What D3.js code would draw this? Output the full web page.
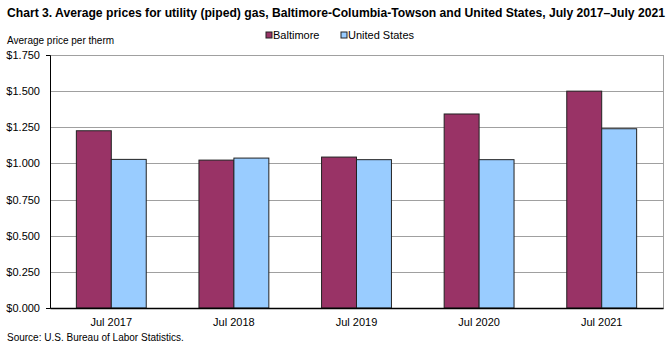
<!DOCTYPE html>
<html>
<head>
<meta charset="utf-8">
<script src="https://cdn.jsdelivr.net/npm/d3@7"></script>
<style>
  body { margin: 0; background: #fff; }
  text { font-family: "Liberation Sans", Arial, sans-serif; fill: #000; }
</style>
</head>
<body>
<div id="chart"></div>
<script>
var categories = ["Jul 2017", "Jul 2018", "Jul 2019", "Jul 2020", "Jul 2021"];
var seriesNames = ["Baltimore", "United States"];
var baltimore = [1.226, 1.023, 1.044, 1.342, 1.500];
var unitedStates = [1.028, 1.037, 1.026, 1.026, 1.240];
var yTicks = [0, 0.25, 0.5, 0.75, 1.0, 1.25, 1.5, 1.75];
var colors = ["#993366", "#99ccff"];

var width = 672, height = 351;
// plot area edges
var plotLeft = 50, plotRight = 663, plotTop = 55, plotBottom = 308;

var svg = d3.select("#chart").append("svg")
            .attr("width", width)
            .attr("height", height);

// title
svg.append("text")
   .attr("x", 7)
   .attr("y", 17)
   .style("font-size", "12px")
   .style("font-weight", "bold")
   .attr("textLength", 658)
   .attr("lengthAdjust", "spacingAndGlyphs")
   .text("Chart 3. Average prices for utility (piped) gas, Baltimore-Columbia-Towson and United States, July 2017\u2013July 2021");

svg.append("text")
   .attr("x", 7)
   .attr("y", 44)
   .style("font-size", "10px")
   .text("Average price per therm");

var xScale = d3.scaleBand()
               .domain(categories)
               .range([plotLeft, plotRight])
               .paddingInner(0.43)
               .paddingOuter(0.215);

var xSub = d3.scaleBand()
             .domain(seriesNames)
             .range([0, xScale.bandwidth()]);

var yScale = d3.scaleLinear()
               .domain([0, 1.75])
               .range([plotBottom, plotTop]);

// plot frame + gridlines
svg.append("rect")
   .attr("x", plotLeft + 0.5).attr("y", plotTop + 0.5)
   .attr("width", plotRight - plotLeft).attr("height", plotBottom - plotTop)
   .attr("fill", "none")
   .attr("stroke", "#a0a0a0");

svg.append("g")
   .selectAll("line")
   .data(yTicks.filter(function(d){ return d > 0; }))
   .enter().append("line")
   .attr("x1", plotLeft).attr("x2", plotRight)
   .attr("y1", function(d){ return Math.round(yScale(d)) + 0.5; })
   .attr("y2", function(d){ return Math.round(yScale(d)) + 0.5; })
   .attr("stroke", "#a0a0a0");

// bars
var data = categories.map(function(c, i){
  return { cat: c, values: [baltimore[i], unitedStates[i]] };
});

var groups = svg.append("g").selectAll("g")
                .data(data)
                .enter().append("g")
                .attr("transform", function(d){ return "translate(" + xScale(d.cat) + ",0)"; });

groups.selectAll("rect")
      .data(function(d){ return d.values.map(function(v, j){ return { name: seriesNames[j], value: v, j: j }; }); })
      .enter().append("rect")
      .attr("x", function(d){ return xSub(d.name); })
      .attr("y", function(d){ return yScale(d.value); })
      .attr("width", xSub.bandwidth())
      .attr("height", function(d){ return plotBottom - yScale(d.value); })
      .attr("fill", function(d){ return colors[d.j]; })
      .attr("stroke", "#222")
      .attr("stroke-width", 1);

// axes
var yAxis = d3.axisLeft(yScale)
              .tickValues(yTicks)
              .tickSize(4)
              .tickFormat(function(d){ return "$" + d.toFixed(3); });

svg.append("g")
   .attr("class", "y_axis")
   .attr("transform", "translate(" + plotLeft + ",0)")
   .call(yAxis)
   .call(function(g){
     g.select(".domain").attr("stroke", "#000");
     g.selectAll("text").style("font-size", "11px").attr("x", -10);
     g.selectAll("line").attr("stroke", "none");
   });

var xAxis = d3.axisBottom(xScale).tickSize(0).tickPadding(10);

svg.append("g")
   .attr("class", "x_axis")
   .attr("transform", "translate(0," + plotBottom + ")")
   .call(xAxis)
   .call(function(g){
     g.select(".domain").attr("stroke", "#000").attr("stroke-width", 1.5);
     g.selectAll("text").style("font-size", "11px");
   });

// legend
var legendX = [266, 341];
var legend = svg.append("g").selectAll("g")
                .data(seriesNames)
                .enter().append("g")
                .attr("transform", function(d, i){ return "translate(" + legendX[i] + ",32)"; });

legend.append("rect")
      .attr("width", 6).attr("height", 6)
      .attr("fill", function(d, i){ return colors[i]; })
      .attr("stroke", "#222");

legend.append("text")
      .attr("x", 7)
      .attr("y", 7)
      .style("font-size", "11px")
      .text(function(d){ return d; });

svg.append("text")
   .attr("x", 7)
   .attr("y", 341)
   .style("font-size", "10px")
   .text("Source: U.S. Bureau of Labor Statistics.");
</script>
</body>
</html>
